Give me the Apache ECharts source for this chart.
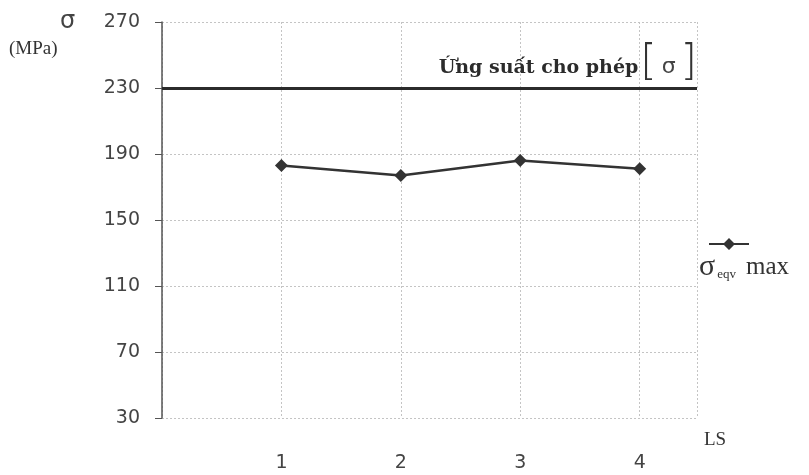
<!DOCTYPE html>
<html>
<head>
<meta charset="utf-8">
<script src="https://cdn.jsdelivr.net/npm/echarts@6/dist/echarts.min.js"></script>
<style>
  html, body { margin: 0; padding: 0; background: #fff; }
  #chart { width: 809px; height: 475px; }
</style>
</head>
<body>
<div id="chart"></div>
<script>
// dữ liệu
const categories = [1, 2, 3, 4];
const sigmaEqvMax = [183, 177, 186, 181];
const allowedStress = 230;
const yTicks = [30, 70, 110, 150, 190, 230, 270];

const chart = echarts.init(document.getElementById('chart'), null, { renderer: 'canvas' });

const points = categories.map((c, i) => [c, sigmaEqvMax[i]]);

// biểu tượng chú thích: đường kẻ + hình thoi
const legendIcon = 'path://M0,5 L15,5 L20,0 L25,5 L40,5 L40,7 L25,7 L20,12 L15,7 L0,7 Z';

chart.setOption({
  animation: false,
  grid: { left: 162, top: 22, right: 112, bottom: 57 },
  xAxis: {
    type: 'value',
    min: 0,
    max: 4.48,
    interval: 1,
    axisLine: { show: false },
    axisTick: { show: false },
    axisLabel: {
      margin: 36,
      fontFamily: 'DejaVu Sans',
      fontSize: 19,
      color: '#444',
      showMinLabel: false,
      showMaxLabel: false,
      formatter: v => (categories.includes(v) ? String(v) : '')
    },
    splitLine: {
      show: true,
      lineStyle: { color: '#c4c4c4', type: [2, 2], width: 1 }
    }
  },
  yAxis: {
    type: 'value',
    min: yTicks[0],
    max: yTicks[yTicks.length - 1],
    interval: 40,
    axisLine: { show: true, onZero: false, lineStyle: { color: '#555', width: 1.5 } },
    axisTick: { show: true, length: 7, lineStyle: { color: '#555' } },
    axisLabel: {
      margin: 22,
      fontFamily: 'DejaVu Sans',
      fontSize: 19,
      color: '#444'
    },
    splitLine: {
      show: true,
      lineStyle: { color: '#c4c4c4', type: [2, 2], width: 1 }
    }
  },
  legend: {
    left: 704,
    top: 233,
    itemWidth: 40,
    itemHeight: 12,
    formatter: () => '',
    data: [{ name: 'σeqv max', icon: legendIcon }],
    selectedMode: false
  },
  graphic: [
    {
      type: 'text', left: 60, top: 10,
      style: { text: 'σ', font: '24px "DejaVu Sans"', fill: '#444' }
    },
    {
      type: 'text', left: 9, top: 40,
      style: { text: '(MPa)', font: '19px "Liberation Serif"', fill: '#333' }
    },
    {
      type: 'text', left: 704, top: 431,
      style: { text: 'LS', font: '19px "Liberation Serif"', fill: '#333' }
    },
    {
      type: 'text', left: 699, top: 252,
      style: {
        text: '{s|σ}{sub|eqv}{m|max}',
        rich: {
          s: { font: '30px "Liberation Serif"', fill: '#333' },
          sub: { font: '13px "Liberation Serif"', fill: '#333', padding: [16, 0, 0, 2] },
          m: { font: '25px "Liberation Serif"', fill: '#333', padding: [0, 0, 0, 10] }
        }
      }
    }
  ],
  series: [
    {
      name: 'σeqv max',
      type: 'line',
      data: points,
      symbol: 'diamond',
      symbolSize: 13,
      lineStyle: { color: '#333', width: 2.5 },
      itemStyle: { color: '#333' },
      markLine: {
        silent: true,
        symbol: 'none',
        lineStyle: { color: '#2b2b2b', width: 3, type: 'solid' },
        label: {
          show: true,
          position: 'insideEndTop',
          distance: [0, 3],
          formatter: '{b|Ứng suất cho phép}{br|[}{s|σ}{br|]}',
          rich: {
            b: { fontFamily: 'DejaVu Serif', fontWeight: 'bold', fontSize: 19, color: '#2b2b2b', padding: [8, 2, 0, 0] },
            br: { fontFamily: 'DejaVu Sans', fontWeight: 'lighter', fontSize: 42, color: '#333' },
            s: { fontFamily: 'DejaVu Sans', fontSize: 22, color: '#444', padding: [6, 5, 0, 5] }
          }
        },
        data: [{ yAxis: allowedStress }]
      }
    }
  ]
});
</script>
</body>
</html>
